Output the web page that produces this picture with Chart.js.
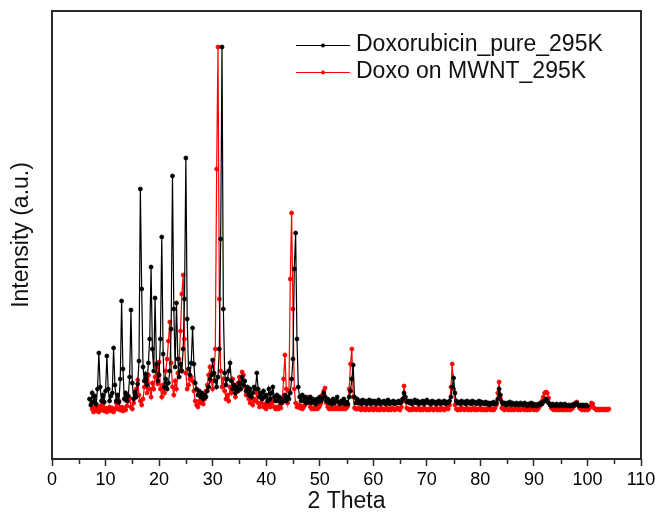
<!DOCTYPE html>
<html>
<head>
<meta charset="utf-8">
<script src="https://cdn.jsdelivr.net/npm/chart.js@4"></script>
<style>
  html, body { margin: 0; padding: 0; background: #fff; }
  #wrap { width: 660px; height: 516px; }
</style>
</head>
<body>
<div id="wrap"><canvas id="xrd" width="660" height="516"></canvas></div>
<script>
/* XRD patterns: pure doxorubicin vs doxorubicin on MWNT */

const THETA_START = 7;
const THETA_STEP = 0.25;
const X_TICKS = [0, 10, 20, 30, 40, 50, 60, 70, 80, 90, 100, 110];
const SERIES_LABELS = ["Doxorubicin_pure_295K", "Doxo on MWNT_295K"];

// intensity (a.u.), one value per 0.25 deg starting at 7 deg
const pureIntensity = [
  /* 7  */ 60,54,66,57,63,55,70,106,72,58,64,57,68,103,70,58,63,66,111,74,
  /* 12 */ 58,64,57,80,158,90,60,66,58,63,82,149,76,60,67,62,75,98,270,170,
  /* 17 */ 92,78,85,74,96,120,192,110,88,161,95,78,84,120,222,105,72,80,70,76,
  /* 22 */ 88,130,283,150,92,156,100,82,95,88,110,160,301,140,90,84,96,131,95,76,
  /* 27 */ 70,64,68,62,66,60,64,62,68,72,80,84,99,86,78,72,82,110,220,412,
  /* 32 */ 150,86,74,80,88,96,78,70,74,66,72,68,76,70,82,74,78,68,72,64,
  /* 37 */ 70,62,66,72,70,86,70,62,66,60,68,62,64,58,70,60,66,72,62,58,
  /* 42 */ 64,58,62,56,60,58,64,58,62,60,66,80,100,190,226,120,72,62,58,64,
  /* 47 */ 58,62,56,60,57,62,56,60,58,55,60,57,62,58,60,66,62,58,60,56,
  /* 52 */ 58,55,60,56,58,62,57,55,58,56,60,55,57,55,62,68,80,94,62,56,
  /* 57 */ 60,56,58,55,59,56,58,55,57,59,55,58,56,58,55,57,59,55,57,56,
  /* 62 */ 58,55,57,59,55,57,56,58,55,57,56,58,56,57,60,66,62,57,58,56,
  /* 67 */ 58,55,57,59,56,58,55,57,56,58,55,57,59,56,57,55,58,56,57,55,
  /* 72 */ 57,58,55,57,56,58,55,57,56,58,62,72,81,66,58,56,57,55,58,56,
  /* 77 */ 57,55,58,56,57,55,58,56,57,55,56,58,55,57,56,55,57,55,56,54,
  /* 82 */ 56,55,57,55,56,60,70,64,57,55,56,54,56,55,57,54,56,55,54,56,
  /* 87 */ 55,54,56,55,54,56,55,53,55,54,56,53,55,54,53,55,54,56,55,57,
  /* 92 */ 58,60,58,56,54,53,55,54,53,55,54,53,55,54,53,55,54,53,54,53,
  /* 97 */ 54,53,55,54,56,54,53,54,53,54,53,54,53,null,null,null,null,null,null,null,
  /* 102*/ null,null,null,null,null,null,null,null,null
];

const mwntIntensity = [
  /* 7  */ null,null,50,47,52,48,51,47,53,49,55,48,51,47,50,52,48,51,47,50,
  /* 12 */ 56,50,58,49,52,48,51,49,53,58,61,52,50,56,66,70,79,64,58,54,
  /* 17 */ 60,72,80,66,84,70,62,76,70,82,92,75,97,70,62,74,66,88,100,118,
  /* 22 */ 137,96,72,64,78,70,86,100,128,165,184,120,86,70,74,80,82,78,68,58,
  /* 27 */ 54,52,58,56,62,55,60,68,74,84,92,78,70,84,110,290,412,160,88,72,
  /* 32 */ 80,68,60,64,58,72,66,80,74,62,68,76,82,78,87,84,72,64,70,60,
  /* 37 */ 56,62,54,60,58,66,56,52,56,60,52,55,50,54,58,52,56,58,52,50,
  /* 42 */ 52,50,53,51,56,80,104,70,56,68,180,246,150,70,56,52,54,51,53,50,
  /* 47 */ 52,54,58,62,56,52,50,51,50,52,50,51,53,56,64,68,71,56,52,50,
  /* 52 */ 51,50,51,50,52,50,51,50,51,50,52,50,51,53,70,95,110,62,51,50,
  /* 57 */ 50,51,50,49,51,50,49,51,50,49,50,51,49,50,51,49,50,49,51,50,
  /* 62 */ 49,50,51,49,50,49,51,50,49,50,51,50,49,52,60,73,58,51,50,49,
  /* 67 */ 50,49,51,50,49,50,51,49,50,49,51,50,49,50,49,51,50,49,50,51,
  /* 72 */ 49,50,49,51,50,49,50,51,50,54,72,95,70,54,50,49,50,49,51,50,
  /* 77 */ 49,50,51,49,50,49,50,51,49,50,49,50,51,49,50,49,50,49,51,50,
  /* 82 */ 49,50,49,51,54,66,77,60,51,50,49,50,51,49,50,49,50,49,50,51,
  /* 87 */ 49,50,49,50,51,49,50,49,50,49,51,50,49,50,49,50,52,54,58,62,
  /* 92 */ 66,67,66,61,55,51,50,49,50,49,50,49,50,49,50,49,50,49,50,49,
  /* 97 */ 50,51,53,56,57,54,51,50,49,50,49,50,49,50,52,56,55,51,50,49,
  /* 102*/ 50,49,50,49,50,49,50,49,50
];

const FONT = "'Liberation Sans', Arial, sans-serif";
const FRAME = "#2a2a2a";

const toPoints = (arr) => arr.map((y, i) => ({ x: THETA_START + i * THETA_STEP, y }));

/* ── frame, minor ticks, legend ───────────────────────── */
const decorPlugin = {
  id: "decor",
  afterDraw(chart) {
    const { ctx, chartArea: a, scales } = chart;
    ctx.save();
    ctx.strokeStyle = FRAME;
    ctx.lineWidth = 2;
    ctx.strokeRect(a.left, a.top, a.right - a.left, a.bottom - a.top);

    // minor ticks at the 5s
    ctx.lineWidth = 1.5;
    for (let v = 5; v < 110; v += 10) {
      const px = Math.round(scales.x.getPixelForValue(v)) + 0.5;
      ctx.beginPath();
      ctx.moveTo(px, a.bottom);
      ctx.lineTo(px, a.bottom + 5);
      ctx.stroke();
    }

    // legend: line with dot, then the label
    ctx.font = `23px ${FONT}`;
    ctx.textBaseline = "middle";
    chart.data.datasets.forEach((ds, i) => {
      const y = 45 + i * 27;
      ctx.strokeStyle = ds.borderColor;
      ctx.lineWidth = 1;
      ctx.beginPath();
      ctx.moveTo(296, y + 0.5);
      ctx.lineTo(350, y + 0.5);
      ctx.stroke();
      ctx.fillStyle = ds.backgroundColor;
      ctx.beginPath();
      ctx.arc(323, y + 0.5, 2, 0, Math.PI * 2);
      ctx.fill();
      ctx.fillStyle = "#111";
      ctx.fillText(ds.label, 356, y);
    });
    ctx.restore();
  },
};

new Chart(document.getElementById("xrd"), {
  type: "line",
  data: {
    datasets: [
      {
        label: SERIES_LABELS[0],
        data: toPoints(pureIntensity),
        borderColor: "#000",
        backgroundColor: "#000",
        borderWidth: 1.2,
        pointRadius: 2,
        pointBorderWidth: 0.8,
        tension: 0,
        spanGaps: false,
      },
      {
        label: SERIES_LABELS[1],
        data: toPoints(mwntIntensity),
        borderColor: "#ff0000",
        backgroundColor: "#ff0000",
        borderWidth: 1.2,
        pointRadius: 2,
        pointBorderWidth: 0.8,
        tension: 0,
        spanGaps: false,
      },
    ],
  },
  options: {
    responsive: false,
    animation: false,
    devicePixelRatio: 1,
    layout: { padding: { left: 0, right: 19, top: 11, bottom: 0 } },
    plugins: { legend: { display: false }, tooltip: { enabled: false } },
    scales: {
      x: {
        type: "linear",
        min: 0,
        max: 110,
        afterBuildTicks: (s) => { s.ticks = X_TICKS.map((v) => ({ value: v })); },
        afterFit: (s) => { s.height = 57; },
        border: { display: false },
        grid: { drawOnChartArea: false, drawTicks: true, tickLength: 7, tickColor: FRAME, tickWidth: 1.5 },
        ticks: { color: "#000", font: { family: FONT, size: 18 }, padding: 3, maxRotation: 0 },
        title: {
          display: true,
          text: "2 Theta",
          color: "#111",
          font: { family: FONT, size: 23 },
          padding: { top: 0, bottom: 1 },
        },
      },
      y: {
        min: 0,
        max: 448,
        afterFit: (s) => { s.width = 52; },
        border: { display: false },
        grid: { display: false },
        ticks: { display: false },
        title: {
          display: true,
          text: "Intensity (a.u.)",
          color: "#111",
          font: { family: FONT, size: 23 },
          padding: { top: 8, bottom: 0 },
        },
      },
    },
  },
  plugins: [decorPlugin],
});
</script>
</body>
</html>
